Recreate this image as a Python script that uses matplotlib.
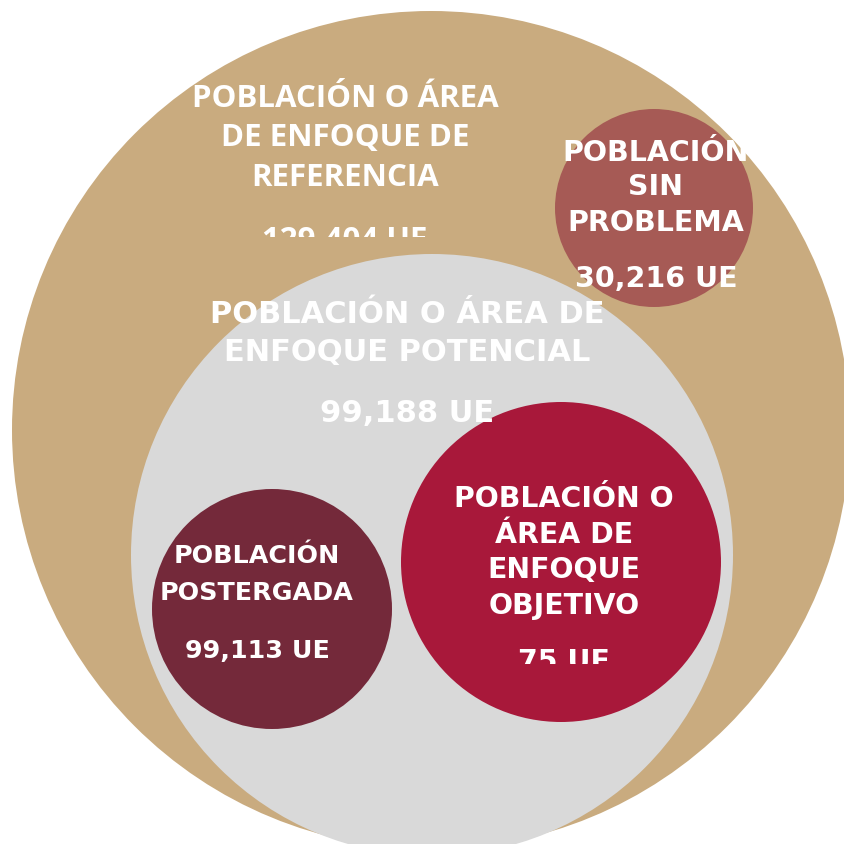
import matplotlib.pyplot as plt
from matplotlib.patches import Circle, Rectangle

# textos y valores de cada población
labels = [
    ["POBLACIÓN O ÁREA", "DE ENFOQUE DE", "REFERENCIA"],
    ["POBLACIÓN O ÁREA DE", "ENFOQUE POTENCIAL"],
    ["POBLACIÓN", "SIN", "PROBLEMA"],
    ["POBLACIÓN", "POSTERGADA"],
    ["POBLACIÓN O", "ÁREA DE", "ENFOQUE", "OBJETIVO"],
]
values = [129404, 99188, 30216, 99113, 75]
colors = ["#C9AB7F", "#D9D9D9", "#A65A55", "#74293A", "#A8183A"]

# layout (pixels, y hacia abajo)
centers = [(431, 431), (432, 556), (654, 209), (272, 610), (561, 563)]
radii = [419, 301, 99, 120, 160]
text_x = [345, 407, 656, 257, 564]
line_baselines = [[107, 146, 186], [323, 361], [161, 195, 231], [563, 600], [507, 543, 578, 614]]
value_baselines = [249, 422, 287, 658, 670]
fontsizes = [22.5, 22, 20.5, 18.3, 20.4]
families = ["Open Sans", "DejaVu Sans", "DejaVu Sans", "DejaVu Sans", "DejaVu Sans"]
clips = [(0, 0, 845, 238), None, (0, 0, 749, 845), None, (0, 0, 845, 665)]

fig = plt.figure(figsize=(8.45, 8.45), dpi=100)
ax = fig.add_axes([0, 0, 1, 1])
ax.set_xlim(0, 845)
ax.set_ylim(845, 0)
ax.set_aspect("equal")
ax.axis("off")

for i in range(len(values)):
    ax.add_patch(Circle(centers[i], radii[i], facecolor=colors[i], edgecolor="none"))

    texts = []
    for line, yb in zip(labels[i], line_baselines[i]):
        texts.append(ax.text(text_x[i], yb, line, ha="center", va="baseline",
                             color="white", fontsize=fontsizes[i],
                             fontweight="bold", family=families[i]))
    texts.append(ax.text(text_x[i], value_baselines[i], f"{values[i]:,} UE",
                         ha="center", va="baseline", color="white",
                         fontsize=fontsizes[i], fontweight="bold",
                         family=families[i]))

    if clips[i] is not None:
        x0, y0, x1, y1 = clips[i]
        rect = Rectangle((x0, y0), x1 - x0, y1 - y0, transform=ax.transData)
        for t in texts:
            t.set_clip_path(rect)
            t.set_clip_on(True)

fig.savefig("out.png", dpi=100, facecolor="white")
